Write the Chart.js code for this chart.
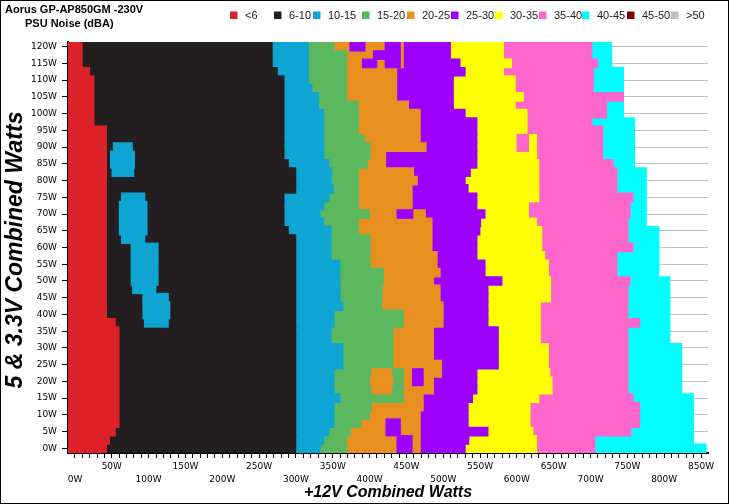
<!DOCTYPE html>
<html>
<head>
<meta charset="utf-8">
<script src="https://cdn.jsdelivr.net/npm/chart.js@4.4.0/dist/chart.umd.min.js"></script>
<style>
  body { margin: 0; background: #fff; }
  canvas { display: block; }
</style>
</head>
<body>
<canvas id="noiseChart" width="729" height="504"></canvas>
<script>
// 5 & 3.3V load (W), one row every 2.5W, top to bottom
const rows = [120, 117.5, 115, 112.5, 110, 107.5, 105, 102.5, 100, 97.5, 95, 92.5, 90, 87.5, 85, 82.5, 80,
  77.5, 75, 72.5, 70, 67.5, 65, 62.5, 60, 57.5, 55, 52.5, 50, 47.5, 45, 42.5, 40, 37.5, 35, 32.5, 30,
  27.5, 25, 22.5, 20, 17.5, 15, 12.5, 10, 7.5, 5, 2.5, 0];

// +12V load (W) where each noise band ends, per row
const redEnd = [10, 10, 10, 20, 26, 26, 26, 26, 26, 26, 43, 43, 43, 43, 43, 43, 43,
  43, 43, 43, 43, 43, 43, 43, 43, 43, 43, 43, 43, 43, 43, 43, 43, 55, 60, 60, 60,
  60, 60, 60, 60, 60, 60, 60, 60, 60, 55, 47, 43];
const blackEnd = [268, 268, 268, 275, 284, 284, 284, 284, 284, 284, 284, 284, 284, 284, 290, 300, 300,
  300, 284, 284, 284, 284, 290, 300, 300, 300, 300, 300, 300, 300, 300, 300, 300, 300, 300, 300, 300,
  300, 300, 300, 300, 300, 300, 300, 300, 300, 300, 300, 300];
const blueEnd = [317, 317, 317, 317, 317, 322, 331, 331, 338, 338, 338, 338, 338, 338, 345, 349, 348,
  351, 345, 338, 333, 338, 348, 348, 348, 348, 360, 360, 360, 360, 360, 364, 352, 352, 348, 348, 364,
  364, 364, 352, 352, 352, 360, 352, 352, 352, 345, 338, 333];
const greenEnd = [352, 369, 369, 369, 369, 369, 369, 385, 385, 385, 385, 393, 401, 401, 397, 385, 385,
  385, 385, 385, 400, 385, 385, 401, 401, 401, 401, 419, 419, 417, 417, 417, 446, 446, 432, 432, 432,
  432, 432, 446, 446, 446, 446, 403, 400, 388, 374, 369, 369];
const orangeEnd = [446, 446, 446, 437, 437, 437, 437, 453, 469, 469, 469, 469, 477, 422, 422, 460, 465,
  458, 458, 458, 476, 485, 485, 485, 485, 492, 492, 496, 487, 496, 496, 500, 500, 500, 487, 487, 487,
  487, 498, 498, 487, 487, 473, 473, 469, 469, 469, 469, 469];
const purpleEnd = [510, 510, 523, 530, 514, 514, 514, 514, 530, 546, 546, 546, 546, 546, 546, 537, 530,
  534, 546, 546, 557, 551, 550, 546, 546, 546, 557, 557, 580, 561, 561, 561, 561, 561, 575, 575, 575,
  575, 575, 546, 546, 546, 540, 534, 534, 534, 561, 535, 530];
const yellowEnd = [582, 582, 593, 582, 598, 598, 609, 598, 614, 614, 614, 627, 627, 627, 630, 630, 630,
  630, 630, 616, 616, 627, 634, 634, 634, 638, 643, 643, 646, 646, 646, 632, 632, 632, 632, 632, 643,
  643, 643, 645, 648, 648, 630, 618, 618, 618, 622, 627, 627];
const pinkEnd = [702, 702, 710, 704, 704, 704, 745, 722, 722, 702, 717, 717, 717, 717, 731, 736, 736,
  736, 758, 754, 754, 751, 751, 751, 758, 736, 736, 736, 754, 751, 751, 751, 751, 767, 751, 751, 751,
  751, 751, 751, 751, 751, 758, 767, 767, 767, 755, 706, 706];
const cyanEnd = [729, 729, 729, 745, 745, 745, 745, 745, 745, 760, 760, 760, 760, 760, 760, 776, 776,
  776, 776, 776, 776, 776, 793, 793, 793, 793, 793, 793, 808, 808, 808, 808, 808, 808, 808, 808, 824,
  824, 824, 824, 824, 824, 840, 840, 840, 840, 840, 840, 857];

// islands: [row, from, to]
const blueIslands = [[90, 52, 78], [87.5, 48, 81], [85, 48, 81], [82.5, 50, 80],
  [75, 63, 95], [72.5, 60, 98], [70, 60, 98], [67.5, 60, 98], [65, 60, 98], [62.5, 63, 95],
  [60, 76, 113], [57.5, 76, 113], [55, 76, 113], [52.5, 76, 113], [50, 76, 113], [47.5, 78, 110],
  [45, 92, 127], [42.5, 92, 129], [40, 92, 129], [37.5, 94, 127]];
const orangeIslands = [[22.5, 403, 430], [20, 401, 432], [17.5, 403, 430]];
const purpleIslands = [[120, 373, 394], [120, 421, 442], [117.5, 405, 442], [115, 390, 410], [115, 421, 442],
  [70, 437, 459], [22.5, 458, 473], [20, 458, 473], [7.5, 422, 442], [5, 422, 442], [2.5, 437, 458], [0, 437, 458]];
const pinkIslands = [[92.5, 600, 616], [90, 600, 616]];

const categories = ['<6', '6-10', '10-15', '15-20', '20-25', '25-30', '30-35', '35-40', '40-45', '45-50', '>50'];
const colors = ['#dc2228', '#231f20', '#0fa5d2', '#5cb85f', '#e8901f', '#9e00ff', '#ffff00', '#ff66cc', '#00ffff', '#7f0000', '#c0c0c0'];

const X_MIN = -9.5, X_MAX = 859.5;
const bandEnds = [redEnd, blackEnd, blueEnd, greenEnd, orangeEnd, purpleEnd, yellowEnd, pinkEnd, cyanEnd];

function barSet(data, color) {
  return { data: data, backgroundColor: color, grouped: false, barThickness: 9, borderWidth: 0 };
}
function islandSet(list, color) {
  return barSet(list.map(p => ({ y: p[0], x: [p[1], p[2]] })), color);
}

// first dataset is painted last, so islands go first and the widest band last
const datasets = [
  islandSet(pinkIslands, colors[7]),
  islandSet(purpleIslands, colors[5]),
  islandSet(orangeIslands, colors[4]),
  islandSet(blueIslands, colors[2])
];
bandEnds.forEach((ends, k) => {
  datasets.push(barSet(rows.map((r, i) => ({ y: r, x: [X_MIN, ends[i]] })), colors[k]));
});

const decor = {
  id: 'decor',
  afterDraw(chart) {
    const ctx = chart.ctx;
    ctx.save();
    ctx.fillStyle = '#000';
    ctx.textBaseline = 'middle';
    ctx.textAlign = 'left';
    ctx.font = 'bold 11px "Liberation Sans"';
    ctx.fillText('Aorus GP-AP850GM -230V', 5, 10);
    ctx.fillText('PSU Noise (dBA)', 25, 24);

    const legendX = [230, 274, 313, 362, 407, 451, 495, 539, 582, 627, 671];
    ctx.font = '11px "Liberation Sans"';
    categories.forEach((c, i) => {
      ctx.fillStyle = colors[i];
      ctx.fillRect(legendX[i], 11.5, 7.5, 7.5);
      ctx.fillStyle = '#222';
      ctx.fillText(c, legendX[i] + 15, 16);
    });

    ctx.fillStyle = '#000';
    ctx.textAlign = 'center';
    ctx.font = 'bold italic 16px "Liberation Sans"';
    ctx.fillText('+12V Combined Watts', 388, 493);
    ctx.translate(16, 250);
    ctx.rotate(-Math.PI / 2);
    ctx.font = 'bold italic 23px "Liberation Sans"';
    ctx.fillText('5 & 3.3V Combined Watts', 0, 0);
    ctx.restore();

    ctx.strokeStyle = '#000';
    ctx.lineWidth = 1;
    ctx.strokeRect(0.5, 0.5, 728, 503);
  }
};

new Chart(document.getElementById('noiseChart'), {
  type: 'bar',
  data: { datasets: datasets },
  options: {
    indexAxis: 'y',
    responsive: false,
    animation: false,
    events: [],
    layout: { padding: { top: 42, right: 21, left: 0, bottom: 0 } },
    plugins: { legend: { display: false }, tooltip: { enabled: false } },
    scales: {
      x: {
        type: 'linear',
        min: X_MIN,
        max: X_MAX,
        afterFit: s => { s.height = 51; },
        border: { color: '#000', width: 2 },
        grid: { drawOnChartArea: false, tickLength: 5, tickColor: '#000' },
        ticks: {
          stepSize: 10,
          includeBounds: false,
          autoSkip: false,
          maxRotation: 0,
          padding: 3,
          color: '#000',
          font: { family: 'DejaVu Sans', size: 9, lineHeight: 1.35 },
          callback: v => v % 100 === 0 ? ['', v + 'W'] : (v % 50 === 0 ? [v + 'W', ''] : '')
        }
      },
      y: {
        type: 'linear',
        min: -1.4,
        max: 121.4,
        offset: false,
        afterFit: s => { s.width = 68; },
        border: { color: '#000', width: 2 },
        grid: { color: '#c0c0c0', tickLength: 6, tickColor: '#000', offset: false },
        ticks: {
          stepSize: 5,
          includeBounds: false,
          padding: 5,
          color: '#000',
          font: { family: 'DejaVu Sans', size: 9 },
          callback: v => v + 'W'
        }
      }
    }
  },
  plugins: [decor]
});
</script>
</body>
</html>
